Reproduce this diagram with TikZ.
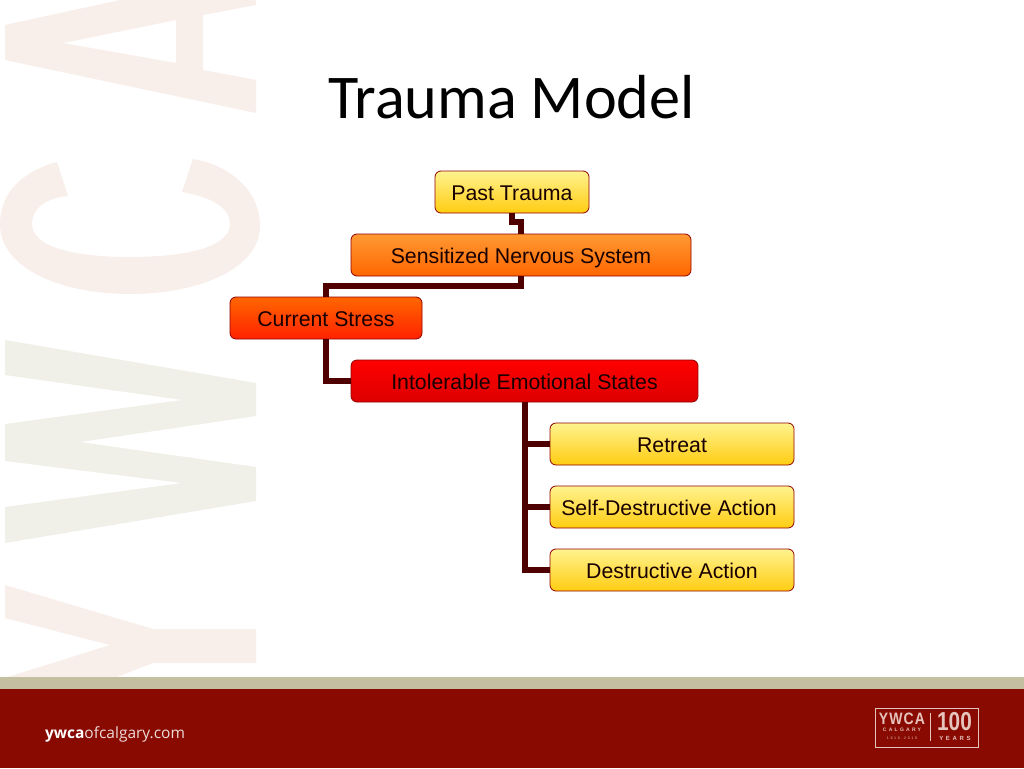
\documentclass[tikz,border=0pt]{standalone}
\usepackage{fontspec}
\setmainfont{Liberation Sans}
\newfontfamily\titlefont{Carlito}
\newfontfamily\footfont{Open Sans}
\newfontfamily\logofont[LetterSpace=8]{Liberation Sans}
\newfontfamily\logowide[LetterSpace=45]{Liberation Sans}
\definecolor{markpink}{HTML}{F8EEEA}
\definecolor{markgrey}{HTML}{F0F0E8}
\definecolor{bandcol}{HTML}{C4BFA0}
\definecolor{footcol}{HTML}{880A00}
\definecolor{linkcol}{HTML}{4F0000}
\definecolor{edgecol}{HTML}{900000}
\definecolor{logocol}{HTML}{E6C4BE}
\definecolor{gold1}{HTML}{FFF38F}
\definecolor{gold2}{HTML}{FFCC11}
\definecolor{orange1}{HTML}{FF9933}
\definecolor{orange2}{HTML}{FF6600}
\definecolor{stress1}{HTML}{FF6600}
\definecolor{stress2}{HTML}{FF2200}
\definecolor{red1}{HTML}{FF0000}
\definecolor{red2}{HTML}{DD0000}
\tikzset{
	box/.style={draw=edgecol,line width=0.8pt,rounded corners=6pt,minimum height=42pt,inner sep=0pt,text height=17.4pt,text depth=0pt,font=\fontsize{21.3}{24}\selectfont,text=black!90!red},
	goldbox/.style={box,top color=gold1,bottom color=gold2},
	orangebox/.style={box,top color=orange1,bottom color=orange2},
	stressbox/.style={box,top color=stress1,bottom color=stress2},
	redbox/.style={box,top color=red1,bottom color=red2},
	link/.style={draw=linkcol,line width=6pt},
	logotext/.style={text=logocol,inner sep=0pt}
}
\begin{document}
\begin{tikzpicture}[x=1pt,y=-1pt]
\useasboundingbox (0,0) rectangle (1024,768);
\fill[white] (0,0) rectangle (1024,768);
% watermark letters
\fill[markpink,even odd rule] (5,25) -- (120,0) -- (256,0) -- (256,5) -- (203,15) -- (203,70) -- (256,80) -- (256,113) -- (5,60) -- cycle
	(63,43) -- (176,20) -- (176,63) -- cycle;
\fill[markpink] (57,162) .. controls (20,172) and (0,195) .. (0,224) .. controls (0,268) and (60,294) .. (130,294) .. controls (200,294) and (260,268) .. (260,226) .. controls (260,192) and (232,166) .. (193,159) -- (182,192) .. controls (212,197) and (230,208) .. (230,224) .. controls (230,246) and (190,257) .. (130,257) .. controls (70,257) and (32,246) .. (32,224) .. controls (32,208) and (46,198) .. (68,196) -- cycle;
\fill[markgrey] (5,340) -- (256,383) -- (256,416) -- (80,442) -- (256,467) -- (256,501) -- (5,543) -- (5,507) -- (182,483) -- (5,461) -- (5,424) -- (182,400) -- (5,375) -- cycle;
\fill[markpink] (5,585) -- (153,629) -- (256,629) -- (256,663) -- (153,663) -- (117,677) -- (8,677) -- (110,645) -- (5,618) -- cycle;
% footer
\fill[bandcol] (0,677) rectangle (1024,689);
\fill[footcol] (0,689) rectangle (1024,768);
\node[white,inner sep=0pt,font=\footfont\fontsize{15.5}{18}\selectfont] (site) at (115,734) {\textbf{ywca}\textcolor{white!85!footcol}{ofcalgary.com}};
\node[draw=logocol,line width=0.6pt,minimum width=103pt,minimum height=39pt,inner sep=0pt] (logo) at (926.5,727.5) {};
\draw[logocol,line width=0.6pt] (930,713) -- (930,741);
\node[logotext,font=\logofont\bfseries\fontsize{16.5}{16.5}\selectfont,xscale=0.85] (ywca) at (902,719) {YWCA};
\node[logotext,font=\logowide\bfseries\fontsize{5}{5}\selectfont] (calgary) at (902,729.5) {CALGARY};
\node[logotext,font=\logowide\fontsize{3.6}{4}\selectfont] (years) at (902,738) {1910-2010};
\node[logotext,font=\bfseries\fontsize{26}{26}\selectfont,xscale=0.8] (hundred) at (954.5,722) {100};
\node[logotext,font=\logowide\bfseries\fontsize{6}{6}\selectfont] (yearslabel) at (955,738.5) {YEARS};
% title
\node[inner sep=0pt,font=\titlefont\fontsize{62.2}{70}\selectfont] (title) at (511.5,97) {Trauma Model};
% boxes
\node[goldbox,minimum width=154pt] (past) at (512,192) {Past Trauma};
\node[orangebox,minimum width=340pt] (sensitized) at (521,255) {Sensitized Nervous System};
\node[stressbox,minimum width=192pt] (current) at (326,318) {Current Stress};
\node[redbox,minimum width=347pt] (intolerable) at (524.5,381) {Intolerable Emotional States};
\foreach \y/\name/\txt in {444/retreat/Retreat,507/selfaction/Self-Destructive Action\hspace*{6pt},570/action/Destructive Action}{
	\node[goldbox,minimum width=244pt] (\name) at (672,\y) {\txt};
	\draw[link] (intolerable.south) |- (\name.west);
	}
\draw[link] (past.south) -- ++(0,9) -| (sensitized.north);
\draw[link] (sensitized.south) -- ++(0,10) -| (current.north);
\draw[link] (current.south) |- (intolerable.west);
\end{tikzpicture}
\end{document}
